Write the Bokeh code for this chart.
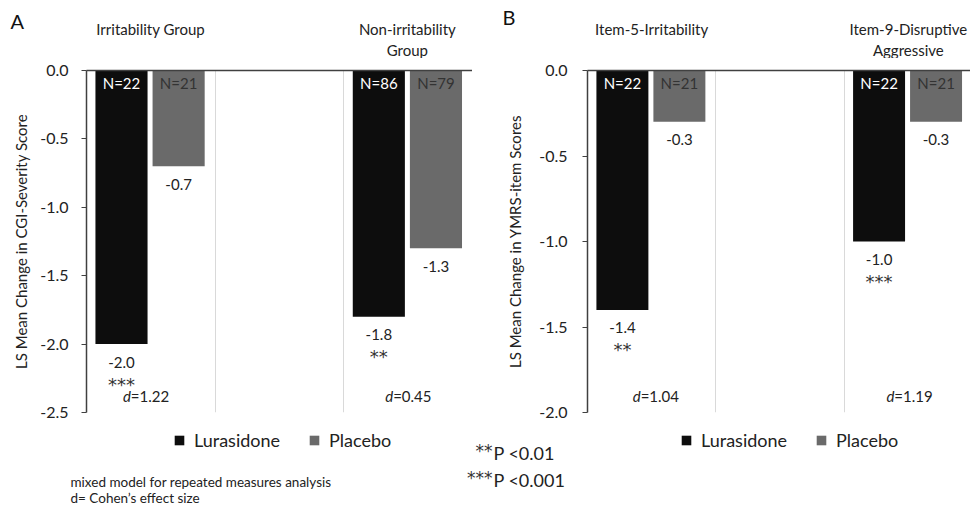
from bokeh.plotting import figure
from bokeh.models import (Range1d, FixedTicker, Label, Legend, LegendItem,
                          ColumnDataSource, PrintfTickFormatter)
from bokeh.layouts import row, column
from bokeh.embed import file_html
from bokeh.resources import INLINE
from bokeh.core.properties import value

FONT = "Lato"
STARFONT = "DejaVu Sans"

# ---------------- data ----------------
series = ["Lurasidone", "Placebo"]

a_groups = ["Irritability Group", "Non-irritability\nGroup"]
a_slots = [0, 2]
a_lura = [-2.0, -1.8]
a_plac = [-0.7, -1.3]
a_lura_n = ["N=22", "N=86"]
a_plac_n = ["N=21", "N=79"]
a_stars = ["***", "**"]
a_d = ["=1.22", "=0.45"]
a_yticks = [0.0, -0.5, -1.0, -1.5, -2.0, -2.5]
a_ylabel = "LS Mean Change in CGI-Severity Score"

b_groups = ["Item-5-Irritability", "Item-9-Disruptive\nAggressive"]
b_slots = [0, 2]
b_lura = [-1.4, -1.0]
b_plac = [-0.3, -0.3]
b_lura_n = ["N=22", "N=22"]
b_plac_n = ["N=21", "N=21"]
b_stars = ["**", "***"]
b_d = ["=1.04", "=1.19"]
b_yticks = [0.0, -0.5, -1.0, -1.5, -2.0]
b_ylabel = "LS Mean Change in YMRS-item Scores"

notes_stars = ["**", "***"]
notes_p = ["P <0.01", "P <0.001"]
notes_small = ["mixed model for repeated measures analysis", "d= Cohen\u2019s effect size"]

BLACK = "#0d0d0d"
GRAY = "#6a6a6a"
TXT = "#222222"
AXIS = "#404040"

TOP_H = 58        # strip above the panels
ROW_H = 372       # panels
BOT_H = 76        # strip below the panels
FRAME_TOP = 12
FRAME_H = 342
SLOT_PX = 385 / 3.0
A_LEFT, A_W = 86, 472
B_LEFT, B_W = 115, 498
B_FRAME_X = A_W + B_LEFT


def make_panel(slots, lura, plac, lura_n, plac_n, stars, dvals, yticks,
               ylabel, width, left, xend, tick_standoff, ylab_standoff,
               d_dx):
    ymin = min(yticks)
    p = figure(width=width, height=ROW_H, x_range=Range1d(0, xend),
               y_range=Range1d(ymin, 0), output_backend="svg",
               toolbar_location=None, x_axis_location="above",
               min_border_left=left, min_border_right=0,
               min_border_top=FRAME_TOP,
               min_border_bottom=ROW_H - FRAME_TOP - FRAME_H)
    p.outline_line_color = None
    p.background_fill_color = "white"
    p.border_fill_color = "white"

    yax = p.yaxis[0]
    yax.ticker = FixedTicker(ticks=yticks)
    yax.formatter = PrintfTickFormatter(format="%.1f")
    yax.minor_tick_line_color = None
    yax.major_tick_in = 0
    yax.major_tick_out = 5
    yax.major_tick_line_color = AXIS
    yax.axis_line_color = AXIS
    yax.axis_line_width = 1.5
    yax.major_label_standoff = tick_standoff
    yax.major_label_text_font = FONT
    yax.major_label_text_font_size = "16px"
    yax.major_label_text_color = TXT
    yax.axis_label = ylabel
    yax.axis_label_text_font = FONT
    yax.axis_label_text_font_size = "15px"
    yax.axis_label_text_font_style = "normal"
    yax.axis_label_text_color = TXT
    yax.axis_label_standoff = ylab_standoff

    xax = p.xaxis[0]
    xax.ticker = FixedTicker(ticks=[])
    xax.major_tick_line_color = None
    xax.minor_tick_line_color = None
    xax.major_tick_out = 0
    xax.major_label_standoff = 0
    xax.major_label_text_font_size = "0px"
    xax.axis_line_color = AXIS
    xax.axis_line_width = 1.5

    p.ygrid.grid_line_color = None
    p.xgrid.ticker = FixedTicker(ticks=[1, 2, 3])
    p.xgrid.grid_line_color = "#d9d9d9"
    p.xgrid.grid_line_width = 1

    xl = [s + 0.272 for s in slots]
    xp = [s + 0.716 for s in slots]
    xc = [s + 0.5 for s in slots]
    src = ColumnDataSource(dict(
        xl=xl, xp=xp, xc=xc, lura=lura, plac=plac,
        lura_t=["%.1f" % v for v in lura], plac_t=["%.1f" % v for v in plac],
        lura_n=lura_n, plac_n=plac_n, stars=stars, dvals=dvals,
        dletter=["d"] * len(slots), ybot=[ymin] * len(slots),
        zero=[0] * len(slots), ddx=d_dx))

    p.vbar(x="xl", top="lura", bottom=0, width=0.405, source=src,
           fill_color=BLACK, line_color=None)
    p.vbar(x="xp", top="plac", bottom=0, width=0.405, source=src,
           fill_color=GRAY, line_color=None)

    common = dict(text_font=value(FONT), text_align="center",
                  text_baseline="middle", source=src)
    p.text(x="xl", y="zero", text="lura_n", y_offset=12, text_color="white",
           text_font_size="15px", **common)
    p.text(x="xp", y="zero", text="plac_n", y_offset=12, text_color="#333333",
           text_font_size="15px", **common)
    p.text(x="xl", y="lura", text="lura_t", y_offset=18, text_color=TXT,
           text_font_size="15px", **common)
    p.text(x="xp", y="plac", text="plac_t", y_offset=18, text_color=TXT,
           text_font_size="15px", **common)
    p.text(x="xl", y="lura", text="stars", y_offset=40, text_color="#333333",
           text_font=value(STARFONT), text_font_size="18px",
           text_align="center", text_baseline="middle", source=src)

    p.text(x="xc", y="ybot", text="dletter", x_offset="ddx", y_offset=-17,
           text_font=value(FONT), text_font_style="italic",
           text_align="right", text_baseline="middle", text_color=TXT,
           text_font_size="15px", source=src)
    p.text(x="xc", y="ybot", text="dvals", x_offset="ddx", y_offset=-17,
           text_font=value(FONT), text_align="left", text_baseline="middle",
           text_color=TXT, text_font_size="15px", source=src)
    return p


pa = make_panel(a_slots, a_lura, a_plac, a_lura_n, a_plac_n, a_stars, a_d,
                a_yticks, a_ylabel, width=A_W, left=A_LEFT, xend=3.0,
                tick_standoff=13, ylab_standoff=7, d_dx=[-20, -15])
pb = make_panel(b_slots, b_lura, b_plac, b_lura_n, b_plac_n, b_stars, b_d,
                b_yticks, b_ylabel, width=B_W, left=B_LEFT,
                xend=3.0 * (B_W - B_LEFT) / 385.0, tick_standoff=15,
                ylab_standoff=12, d_dx=[-11, -14])

# ---------------- top strip: panel letters and group titles ----------------
top = figure(width=A_W + B_W, height=TOP_H, x_range=Range1d(0, 1),
             y_range=Range1d(0, 1), x_axis_type=None, y_axis_type=None,
             output_backend="svg", toolbar_location=None, min_border=0)
top.outline_line_color = None
top.grid.visible = False
top.add_layout(Label(x=10, y=TOP_H - 20, x_units="screen", y_units="screen",
                     text="A", text_align="left", text_baseline="middle",
                     text_font=FONT, text_font_size="20px", text_color="#111111"))
top.add_layout(Label(x=502, y=TOP_H - 16, x_units="screen", y_units="screen",
                     text="B", text_align="left", text_baseline="middle",
                     text_font=FONT, text_font_size="20px", text_color="#111111"))
for frame_x, groups, slots in ((A_LEFT, a_groups, a_slots),
                               (B_FRAME_X, b_groups, b_slots)):
    for g, s in zip(groups, slots):
        cx = frame_x + (s + 0.5) * SLOT_PX
        for i, line in enumerate(g.split("\n")):
            top.add_layout(Label(x=cx, y=TOP_H - (28 + 21 * i),
                                 x_units="screen", y_units="screen", text=line,
                                 text_align="center", text_baseline="middle",
                                 text_font=FONT, text_font_size="15px",
                                 text_color=TXT))

# ---------------- bottom strip: legends and notes ----------------
bot = figure(width=A_W + B_W, height=BOT_H, x_range=Range1d(0, 1),
             y_range=Range1d(0, 1), x_axis_type=None, y_axis_type=None,
             output_backend="svg", toolbar_location=None, min_border=0)
bot.outline_line_color = None
bot.grid.visible = False
# hidden legend key proxies
kl = bot.vbar(x=[0.5], top=[1], width=0.1, fill_color=BLACK, line_color=None,
              visible=False)
kp = bot.vbar(x=[0.5], top=[1], width=0.1, fill_color=GRAY, line_color=None,
              visible=False)
for lx in (173, 680):
    bot.add_layout(Legend(items=[LegendItem(label=series[0], renderers=[kl]),
                                 LegendItem(label=series[1], renderers=[kp])],
                          orientation="horizontal", location=(lx, 55),
                          glyph_width=12, glyph_height=12, label_standoff=9,
                          spacing=28, padding=0, margin=0, label_height=12,
                          border_line_color=None, background_fill_alpha=0,
                          inactive_fill_alpha=0,
                          label_text_font=FONT, label_text_font_size="18px",
                          label_text_color=TXT, label_text_baseline="middle"),
                   "center")

for i, (st, tx) in enumerate(zip(notes_stars, notes_p)):
    ycen = BOT_H - (22 + 27 * i)
    bot.add_layout(Label(x=492, y=ycen + 2, x_units="screen", y_units="screen",
                         text=st, text_align="right", text_baseline="middle",
                         text_font=STARFONT, text_font_size="17px",
                         text_color="#333333"))
    bot.add_layout(Label(x=493, y=ycen, x_units="screen", y_units="screen",
                         text=tx, text_align="left", text_baseline="middle",
                         text_font=FONT, text_font_size="18px", text_color=TXT))
for i, t in enumerate(notes_small):
    bot.add_layout(Label(x=70, y=BOT_H - (51 + 16 * i), x_units="screen",
                         y_units="screen", text=t, text_align="left",
                         text_baseline="middle", text_font=FONT,
                         text_font_size="13.5px", text_color=TXT))

layout = column(top, row(pa, pb), bot)
open("out.html", "w").write(file_html(layout, INLINE))
